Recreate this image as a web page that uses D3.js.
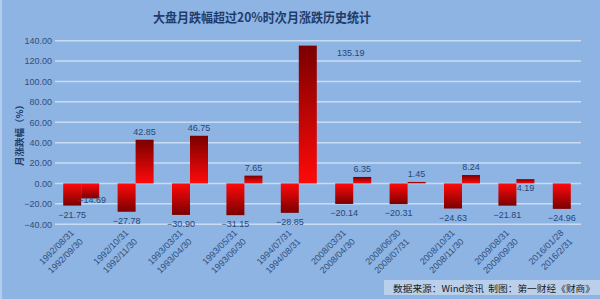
<!DOCTYPE html>
<html lang="zh-CN">
<head>
<meta charset="UTF-8">
<title>大盘月跌幅超过20%时次月涨跌历史统计</title>
<script src="https://d3js.org/d3.v7.min.js"></script>
<style>
  body { margin: 0; background: #8eb4e3; }
  svg { display: block; font-family: "Noto Sans CJK SC", "DejaVu Sans", sans-serif; }
</style>
</head>
<body>
<div id="chart"></div>
<script>
// 分组日期（跌月 / 次月）
const dropDates = ["1992/08/31", "1992/10/31", "1993/03/31", "1993/05/31", "1994/07/31",
                   "2008/03/31", "2008/06/30", "2008/10/31", "2009/08/31", "2016/01/28"];
const nextDates = ["1992/09/30", "1992/11/30", "1993/04/30", "1993/06/30", "1994/08/31",
                   "2008/04/30", "2008/07/31", "2008/11/30", "2009/09/30", "2016/2/31"];
// 月涨跌幅（%）
const dropValues = [-21.75, -27.78, -30.90, -31.15, -28.85, -20.14, -20.31, -24.63, -21.81, -24.96];
const nextValues = [-14.69, 42.85, 46.75, 7.65, 135.19, 6.35, 1.45, 8.24, 4.19, null];
const yTicks = [-40, -20, 0, 20, 40, 60, 80, 100, 120, 140];

const width = 600, height = 299;
const svg = d3.select("#chart").append("svg")
    .attr("width", width)
    .attr("height", height);

// 渐变：远离零线的一端为深红
const defs = svg.append("defs");
function grad(id, topColor, bottomColor) {
  const g = defs.append("linearGradient").attr("id", id)
      .attr("x1", 0).attr("y1", 0).attr("x2", 0).attr("y2", 1);
  g.append("stop").attr("offset", "0%").attr("stop-color", topColor);
  g.append("stop").attr("offset", "100%").attr("stop-color", bottomColor);
}
grad("gPos", "#7a0000", "#ff0a0a");
grad("gNeg", "#ff0a0a", "#7a0000");

svg.append("rect").attr("width", width).attr("height", height).attr("fill", "#8eb4e3");
svg.append("rect").attr("width", 2).attr("height", height).attr("fill", "#b4cdec");

const groups = d3.range(dropDates.length);
const x = d3.scaleBand().domain(groups).range([54, 598]).paddingInner(0).paddingOuter(0);
const y = d3.scaleLinear().domain([-40, 140]).range([224.2, 40.7]);
const barW = 18;
const gridRight = 581;

// 网格线
svg.append("g").selectAll("line")
  .data(yTicks)
  .join("line")
    .attr("x1", 55).attr("x2", gridRight)
    .attr("y1", d => y(d)).attr("y2", d => y(d))
    .attr("stroke", "#c9dbf3")
    .attr("stroke-width", 1.5);

// Y 轴刻度
const yAxis = svg.append("g")
    .attr("transform", "translate(52,0)")
    .call(d3.axisLeft(y).tickValues(yTicks).tickSize(0).tickPadding(0).tickFormat(d3.format(".2f")));
yAxis.select(".domain").remove();
yAxis.selectAll("text").attr("fill", "#2f4f7f").attr("font-size", 9).attr("font-family", "Liberation Sans, Arial, sans-serif");

// 柱数据
const bars = [];
groups.forEach(i => {
  bars.push({ g: i, s: 0, v: dropValues[i] });
  if (nextValues[i] !== null) bars.push({ g: i, s: 1, v: nextValues[i] });
});
const bx = d => x(d.g) + x.bandwidth() / 2 - barW + d.s * barW;

svg.append("g").selectAll("rect")
  .data(bars)
  .join("rect")
    .attr("x", bx)
    .attr("width", barW)
    .attr("y", d => y(Math.max(0, d.v)))
    .attr("height", d => Math.abs(y(d.v) - y(0)))
    .attr("fill", d => d.v >= 0 ? "url(#gPos)" : "url(#gNeg)");

// 数据标签（个别标签位置微调）
const labelNudge = { "0-1": [2, -7], "4-1": [43, 15], "8-1": [0, 17] };
svg.append("g").selectAll("text")
  .data(bars)
  .join("text")
    .attr("x", d => bx(d) + barW / 2 + (labelNudge[d.g + "-" + d.s] || [0, 0])[0])
    .attr("y", d => (d.v >= 0 ? y(d.v) - 5 : y(d.v) + 12) + (labelNudge[d.g + "-" + d.s] || [0, 0])[1])
    .attr("text-anchor", "middle")
    .attr("font-size", 9)
    .attr("font-family", "Liberation Sans, Arial, sans-serif")
    .attr("fill", "#23487a")
    .text(d => d3.format(".2f")(d.v));

// X 轴分类标签（两行，旋转 45°）
const xl = svg.append("g").selectAll("g")
  .data(groups)
  .join("g")
    .attr("transform", i => `translate(${x(i) + x.bandwidth() / 2 - 6},234) rotate(-45)`);
xl.append("text")
    .attr("text-anchor", "end")
    .attr("font-size", 9)
    .attr("font-family", "Liberation Sans, Arial, sans-serif")
    .attr("fill", "#2f4f7f")
    .call(t => {
      t.append("tspan").attr("x", 0).attr("dy", "-0.1em").text(i => dropDates[i]);
      t.append("tspan").attr("x", 0).attr("dy", "1.4em").text(i => nextDates[i]);
    });

// 标题
svg.append("text")
    .attr("x", 262).attr("y", 22)
    .attr("text-anchor", "middle")
    .attr("font-size", 13)
    .attr("font-weight", "bold")
    .attr("fill", "#1f3d6b")
    .attr("textLength", 218)
    .attr("lengthAdjust", "spacingAndGlyphs")
    .text("大盘月跌幅超过20%时次月涨跌历史统计");

// Y 轴标题
svg.append("text")
    .attr("transform", "translate(23,133) rotate(-90)")
    .attr("text-anchor", "middle")
    .attr("font-size", 9.5)
    .attr("font-weight", "bold")
    .attr("fill", "#1f3d6b")
    .text("月涨跌幅（%）");

// 来源
svg.append("rect").attr("x", 384).attr("y", 280).attr("width", 216).attr("height", 15).attr("fill", "#b9cfea");
svg.append("text")
    .attr("x", 393).attr("y", 292)
    .attr("font-size", 9)
    .attr("fill", "#1a1a1a")
    .attr("textLength", 202)
    .attr("lengthAdjust", "spacingAndGlyphs")
    .text("数据来源：Wind资讯\u00a0\u00a0制图：第一财经《财商》");
</script>
</body>
</html>
